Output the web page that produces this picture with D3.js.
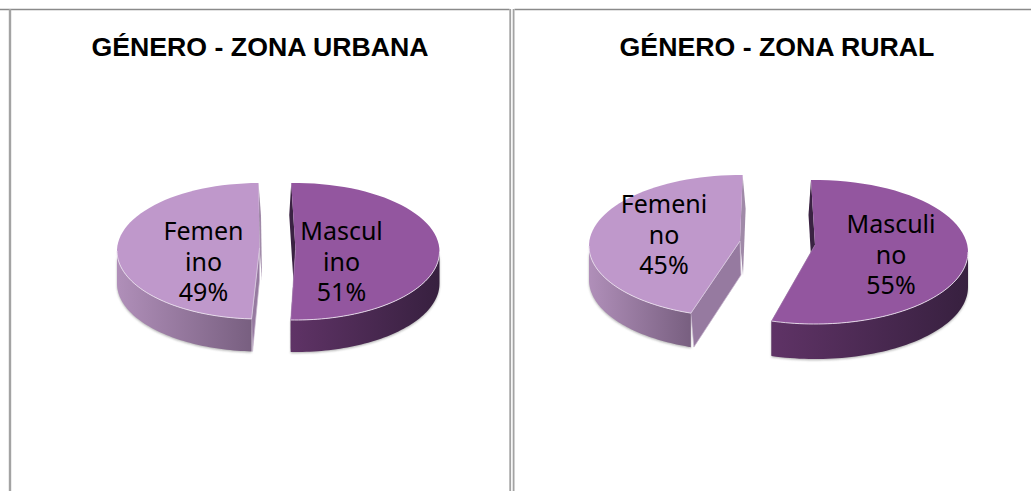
<!DOCTYPE html>
<html><head><meta charset="utf-8">
<script src="https://cdn.jsdelivr.net/npm/d3@7/dist/d3.min.js"></script>
<style>html,body{margin:0;padding:0;background:#fff;overflow:hidden}svg{display:block}</style>
</head><body><svg id="c" width="1031" height="491"></svg>
<script>
const titles = ["GÉNERO - ZONA URBANA", "GÉNERO - ZONA RURAL"];
const categories = ["Masculino", "Femenino"];
const urbanValues = [51, 49];
const ruralValues = [55, 45];
const urbanLabels = [["Mascul","ino","51%"], ["Femen","ino","49%"]];
const ruralLabels = [["Masculi","no","55%"], ["Femeni","no","45%"]];

// layout of the pseudo-3D pies (one entry per slice: apex, ellipse, wall)
const charts = [
 {title:titles[0], tx:260, values:urbanValues, labels:urbanLabels, slices:[
   {ax:295.5, ay:250, cy:251.5, rx:144, ry:68.5, depth:32, tweak:-1.7, sx:-2, fx:0, ex:0, lx:341.5, ly:240},
   {ax:259.5, ay:248, cy:251, rx:142.5, ry:68, depth:32.5, tweak:-0.4, sx:2.5, fx:0, ex:1, lx:203.5, ly:240}]},
 {title:titles[1], tx:777, values:ruralValues, labels:ruralLabels, slices:[
   {ax:815, ay:245, cy:252, rx:153, ry:72, depth:35, tweak:-1.5, sx:-2.5, fx:0, ex:0, lx:891, ly:233},
   {ax:740, ay:241, cy:246, rx:151, ry:71, depth:34, tweak:1, sx:3, fx:1, ex:3, lx:664, ly:213}]}
];
const sliceStyle = [
 {top:"#93569f", wall:["#5f3366","#37203f"], cut:"#4a2a52"},
 {top:"#bf98cb", wall:["#b08fb9","#785f80"], cut:"#967aa0"}
];

const svg = d3.select("#c");
const defs = svg.append("defs");
sliceStyle.forEach((s,i)=>{
  const g = defs.append("linearGradient").attr("id","wall"+i);
  g.append("stop").attr("offset","0").attr("stop-color",s.wall[0]);
  g.append("stop").attr("offset","1").attr("stop-color",s.wall[1]);
});
const blur = defs.append("filter").attr("id","soft").attr("x","-5%").attr("y","-5%").attr("width","110%").attr("height","110%");
blur.append("feGaussianBlur").attr("stdDeviation","0.9");

// frames
const frame = svg.append("g").attr("fill","none");
frame.append("path").attr("d","M0 9.5H509.5M514.5 9.5H1031").attr("stroke","#8a8a8a").attr("stroke-width",1.6);
frame.append("path").attr("d","M10 9V491").attr("stroke","#a3a3a3").attr("stroke-width",2.4);
frame.append("path").attr("d","M510.2 9V491M513.6 9V491").attr("stroke","#a3a3a3").attr("stroke-width",1.8);

const pie = d3.pie().sort(null).value(d=>d);
const line = d3.line();

charts.forEach(ch=>{
  const g = svg.append("g");
  g.append("text").attr("x",ch.tx).attr("y",56).attr("text-anchor","middle")
   .attr("font-family","'Liberation Sans',Arial,sans-serif").attr("font-weight","bold").attr("font-size",26.7)
   .attr("fill","#000").text(ch.title);
  const arcs = pie(ch.values);
  arcs.forEach((a,i)=>{
    const s = ch.slices[i], st = sliceStyle[i];
    const t = s.tweak*Math.PI/180;
    const a0 = a.startAngle+t, a1 = a.endAngle+t;
    const P = th=>[s.ax+s.rx*Math.sin(th), s.cy-s.ry*Math.cos(th)];
    const sample = (p,q)=>d3.range(0,61).map(k=>p+(q-p)*k/60);
    const down = (p,dx=0)=>[p[0]+dx,p[1]+s.depth];
    const apex = [s.ax,s.ay];
    const pg = g.append("g");
    // back cut wall (only a sliver shows past the top face)
    const back = P(i?a1:a0);
    pg.append("path").attr("d",line([back,apex,down(apex,s.sx),down(back,s.sx)])+"Z")
      .attr("fill",i?"#a08aa8":"#3a2242");
    // outer wall
    const f0 = Math.max(a0,Math.PI/2), f1 = Math.min(a1,Math.PI*1.5);
    const rim = sample(f0,f1).map(P);
    const wallPts = rim.concat(rim.slice().reverse().map(p=>down(p)));
    pg.append("path").attr("d",line(wallPts)+"Z").attr("fill","#9c9c9c").attr("opacity",.75)
      .attr("filter","url(#soft)").attr("transform","translate(0,1.2)");
    // front cut wall
    const frontEnd = P(i?a0:a1);
    pg.append("path").attr("d",line([apex,frontEnd,down(frontEnd,s.ex),down(apex,s.fx)])+"Z")
      .attr("fill",st.cut).attr("stroke",i?"#c9b8cf":"none").attr("stroke-width",.7);
    pg.append("path").attr("d",line(wallPts)+"Z").attr("fill",`url(#wall${i})`);
    // top face
    const topPts = [apex].concat(sample(a0,a1).map(P));
    pg.append("path").attr("d",line(topPts)+"Z").attr("fill",st.top);
    // bevel highlight on the front rim
    pg.append("path").attr("d",line(rim)).attr("fill","none").attr("stroke","#eadfed").attr("stroke-width",.9);
    pg.append("path").attr("d",line([apex,frontEnd])).attr("fill","none").attr("stroke",i?"#e3d7e7":"#b48fbd").attr("stroke-width",.6);
    // label: each wrapped line is its own text element
    ch.labels[i].forEach((l,k)=>g.append("text").attr("text-anchor","middle")
      .attr("font-family","'Noto Sans',sans-serif").attr("font-size",25).attr("fill","#000")
      .attr("x",s.lx).attr("y",s.ly+k*30.5).text(l));
  });
});
</script></body></html>
